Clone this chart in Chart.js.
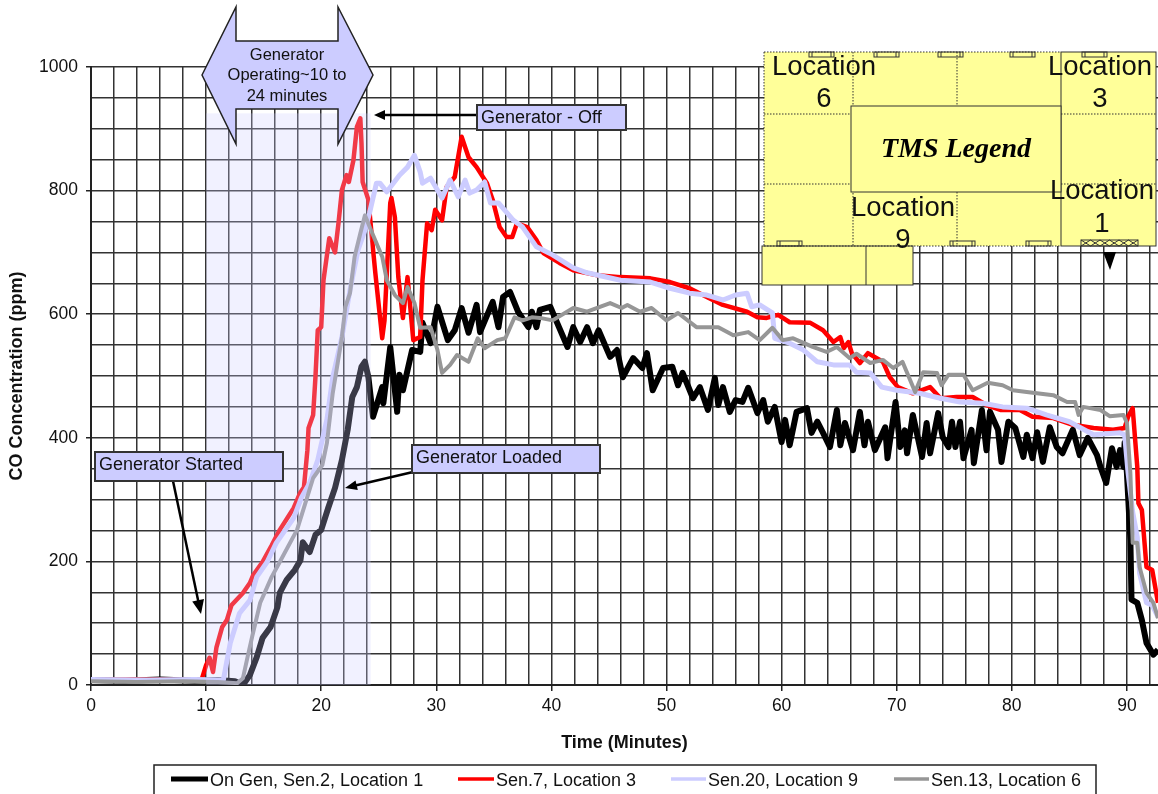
<!DOCTYPE html>
<html>
<head>
<meta charset="utf-8">
<title>CO Concentration</title>
<script src="https://cdn.jsdelivr.net/npm/chart.js@4"></script>
<style>
body { margin: 0; background: #fff; overflow: hidden; }
canvas { display: block; }
</style>
</head>
<body>
<canvas id="co_chart" width="1158" height="794"></canvas>
<script>
// values: minutes and ppm for each sensor
const sen2Time = [0,3,6,9,11,12.5,13.2,13.8,14.4,14.9,15.6,16.2,16.4,17,17.7,18.2,18.4,19,19.5,20,20.6,21.2,21.8,22.3,22.7,23.1,23.5,23.8,24.1,24.5,25.3,25.4,26,26.6,26.8,27.1,27.9,28.6,28.8,29.5,30.1,31,31.6,32.2,32.8,33.5,33.8,34.9,35.4,35.8,36.4,37.1,38,38.3,38.7,39,39.9,40.5,41.4,41.9,42.5,43.1,43.6,44.1,45.1,45.7,46.2,47.1,47.9,48.3,48.8,49.7,50.5,51,51.4,52.3,52.9,53.6,54.2,54.5,54.9,55.5,56,56.6,57.1,57.9,58.4,58.8,59.4,60,60.3,60.7,61.3,62.2,62.6,63.1,63.6,64.2,64.8,65.1,65.5,66.2,66.8,67.2,67.5,68.1,69,69.2,69.9,70.3,70.7,70.9,71.4,72.2,72.6,72.9,73.6,74,74.5,74.8,75.1,75.5,75.8,76.5,76.7,77.4,77.8,78.1,78.8,79.1,79.7,80.3,81,81.3,81.8,82.2,82.7,83.3,83.9,84.4,85.3,85.9,86.6,87.4,87.7,88.2,88.7,89.1,89.4,89.7,89.8,90,90.3,90.4,90.9,91.3,91.7,92.3,92.7];
const sen2Ppm = [8,7,9,7,8,6,0,16,45,76,94,126,149,170,186,202,231,215,243,251,286,319,364,413,466,482,515,523,498,434,482,456,547,442,502,477,542,539,586,553,612,558,574,610,570,615,571,620,579,628,636,604,579,604,579,607,612,586,547,579,555,579,553,574,531,542,498,529,513,537,477,513,515,485,505,464,482,445,497,453,482,442,461,458,481,440,461,426,450,393,429,388,442,448,408,426,408,385,445,388,424,380,442,388,426,380,417,367,458,385,412,375,437,369,424,375,440,401,385,426,385,426,367,413,359,445,380,442,413,361,426,416,369,405,367,409,361,417,385,375,413,372,400,372,353,327,383,353,380,353,392,343,235,138,133,105,68,49,57];

const sen7Time = [0,4,8,9.6,10,10.3,10.6,10.9,11.4,11.8,12.2,13.2,13.8,14.1,14.9,15.7,16.4,17.6,18.2,18.5,18.8,18.9,19.3,19.5,19.7,20,20.2,20.7,21.2,21.5,21.8,22.2,22.4,22.8,23.1,23.4,23.5,23.6,24.1,24.4,24.7,25.3,25.5,26,26.1,26.4,26.7,27.1,27.5,28,28.6,28.8,29.2,29.6,29.9,30.5,30.9,31.6,32.2,32.8,33.5,34.4,34.9,35.5,36.1,36.6,37,37.9,38.7,39.3,40.7,41.9,44,46,48.6,50.3,52,53.5,54.9,57,57.9,58.7,59.7,60.7,62.5,63.6,64.5,65.1,65.4,65.8,66.1,66.8,67.5,68.8,69.4,70.1,71.4,72.9,73.8,75.2,76.6,77.8,79,80.7,81.8,83.6,85.3,87.1,88.8,89.8,90.1,90.5,90.9,91,91.3,91.7,92.2,92.7];
const sen7Ppm = [8,9,8,8,32,44,21,61,94,105,129,149,165,178,199,226,251,286,312,320,380,416,437,498,574,579,655,723,700,747,801,825,814,849,903,917,877,814,785,725,667,561,590,780,788,757,660,594,660,558,563,655,747,736,769,752,806,822,887,854,838,812,785,741,725,725,747,741,720,699,683,671,663,660,658,652,642,628,615,604,595,594,599,587,586,574,555,563,545,555,537,521,537,523,498,482,472,482,464,466,466,453,445,445,434,432,421,416,413,416,434,448,353,294,283,191,186,133];

const sen20Time = [0,5,9,11.5,12.1,12.9,13.8,14.4,15.3,16.1,17.6,18.3,19,19.7,20.5,21,21.8,22.5,23.2,23.8,24.2,24.8,25.1,25.7,26.8,27.5,28.1,28.6,28.8,29.5,30.5,31.2,31.9,32.5,32.9,33.5,34.2,34.7,35.4,36.7,37.5,38.7,40.1,41.9,43.1,46,48.6,50.3,52,53.5,54.9,56,57,57.4,58.1,59.2,59.4,60.7,61.9,63.1,64.5,65.9,66.5,67.7,68.7,70,72,73.8,75.5,77.5,79.2,81.3,83,85,87.1,89.4,89.8,90.1,90.5,90.9,91.1,91.7,92.2,92.7];
const sen20Ppm = [9,8,9,8,68,116,137,175,199,230,270,304,327,364,430,498,563,639,704,736,764,812,812,798,825,838,857,830,812,820,788,817,790,817,796,801,814,780,780,752,741,709,696,675,667,655,652,642,634,631,623,631,634,612,615,602,561,553,542,523,518,518,506,505,482,477,472,464,458,456,450,448,437,426,405,408,405,343,280,239,181,133,129,110];

const sen13Time = [0,4,8,11,12.7,13.2,13.6,14,14.7,15.7,16.4,17.9,18.9,19.3,20.1,20.5,21,21.8,22.1,22.5,22.9,23.4,23.8,24.5,25.3,25.7,26.4,27.1,27.5,28.1,28.6,29.5,30.1,30.5,31.2,31.8,32.8,33.6,34.2,35.3,36,36.8,37.5,38.3,39,40.1,41.9,43.1,45.1,46.1,46.6,47.7,48.7,50,51,52.6,54.5,55.8,57.1,58.1,59.2,60.1,61,62.7,63.9,64.8,65.9,66.5,67.7,68.8,69.7,70.5,71.6,72.3,73.5,73.9,74.5,75.8,76.6,77.9,79.2,80.1,81.3,83.6,84.8,85.5,85.8,86.2,87.7,88.5,89.7,90,90.3,90.5,90.9,91.1,91.7,92.3,92.7];
const sen13Ppm = [6,5,6,5,3,11,45,78,133,175,199,251,311,335,356,392,472,563,612,634,693,731,760,728,693,655,631,618,644,618,578,579,542,505,518,534,523,561,545,558,561,595,590,595,594,590,610,604,618,610,615,604,610,590,602,579,579,566,571,558,578,558,561,547,539,547,529,536,521,526,513,523,474,506,505,485,502,502,477,489,485,477,474,469,458,458,437,450,445,435,437,424,343,230,230,191,149,133,108];

const seriesLabels = ["On Gen, Sen.2, Location 1", "Sen.7, Location 3", "Sen.20, Location 9", "Sen.13, Location 6"];
const seriesColors = ["#000000", "#ff0000", "#ccccff", "#969696"];
const seriesWidths = [6, 4.5, 5, 4];

const toPoints = (t, v) => t.map((x, i) => ({ x: x, y: v[i] }));
const FONT = '"Liberation Sans", Arial, sans-serif';

function arrow(ctx, x1, y1, x2, y2, len, half) {
    const a = Math.atan2(y2 - y1, x2 - x1);
    ctx.strokeStyle = '#000';
    ctx.fillStyle = '#000';
    ctx.lineWidth = 2.5;
    ctx.beginPath();
    ctx.moveTo(x1, y1);
    ctx.lineTo(x2 - Math.cos(a) * len * 0.7, y2 - Math.sin(a) * len * 0.7);
    ctx.stroke();
    ctx.beginPath();
    ctx.moveTo(x2, y2);
    ctx.lineTo(x2 - Math.cos(a) * len - Math.sin(a) * half, y2 - Math.sin(a) * len + Math.cos(a) * half);
    ctx.lineTo(x2 - Math.cos(a) * len + Math.sin(a) * half, y2 - Math.sin(a) * len - Math.cos(a) * half);
    ctx.closePath();
    ctx.fill();
}

function noteBox(ctx, x, y, w, h, text, baseline) {
    ctx.fillStyle = '#ccccff';
    ctx.strokeStyle = '#333';
    ctx.lineWidth = 2;
    ctx.fillRect(x, y, w, h);
    ctx.strokeRect(x, y, w, h);
    ctx.fillStyle = '#111';
    ctx.font = '18px ' + FONT;
    ctx.textAlign = 'left';
    ctx.fillText(text, x + 4, baseline);
}

// shaded run period, generator notes, floor plan and legend
const overlays = {
    id: 'overlays',
    afterDatasetsDraw(chart) {
        const ctx = chart.ctx;
        const xs = chart.scales.x, ys = chart.scales.y;
        ctx.save();

        const bandL = xs.getPixelForValue(10), bandR = xs.getPixelForValue(24.3);
        const bandT = ys.getPixelForValue(925), bandB = ys.getPixelForValue(0);
        ctx.fillStyle = 'rgba(204,204,255,0.28)';
        ctx.fillRect(bandL, bandT, bandR - bandL, bandB - bandT);

        // double arrow
        const hex = [[202,75],[236,7],[236,41],[338,41],[338,7],[373,75],[338,144],[338,109],[236,109],[236,144]];
        ctx.beginPath();
        hex.forEach((p, i) => i ? ctx.lineTo(p[0], p[1]) : ctx.moveTo(p[0], p[1]));
        ctx.closePath();
        ctx.fillStyle = '#ccccff';
        ctx.fill();
        ctx.strokeStyle = '#222';
        ctx.lineWidth = 1.5;
        ctx.stroke();
        ctx.fillStyle = '#111';
        ctx.font = '16.5px ' + FONT;
        ctx.textAlign = 'center';
        ctx.fillText('Generator', 287, 60);
        ctx.fillText('Operating~10 to', 287, 80);
        ctx.fillText('24 minutes', 287, 101);

        arrow(ctx, 477, 115, 374, 115, 11, 5);
        noteBox(ctx, 477, 105, 149, 25, 'Generator - Off', 123);
        arrow(ctx, 173, 481, 201, 614, 14, 6);
        noteBox(ctx, 95, 452, 188, 29, 'Generator Started', 470);
        arrow(ctx, 413, 472, 345, 488, 12, 5);
        noteBox(ctx, 412, 445, 188, 28, 'Generator Loaded', 463);

        // floor plan
        ctx.fillStyle = '#ffff99';
        ctx.fillRect(764, 52, 392, 194);
        ctx.fillRect(762, 246, 151, 39);
        ctx.strokeStyle = '#333';
        ctx.lineWidth = 1;
        ctx.setLineDash([1.5, 1.5]);
        [[764,52,1061,52],[764,52,764,246],[764,246,1061,246],[853,52,853,246],[957,52,957,106],[957,192,957,246],[764,114,851,114],[1061,114,1156,114],[764,184,851,184],[1061,184,1156,184]].forEach(l => {
            ctx.beginPath();
            ctx.moveTo(l[0], l[1]);
            ctx.lineTo(l[2], l[3]);
            ctx.stroke();
        });
        ctx.setLineDash([]);
        ctx.strokeRect(1061, 52, 95, 194);
        ctx.fillStyle = '#ffff99';
        ctx.fillRect(851, 106, 210, 86);
        ctx.strokeRect(851, 106, 210, 86);
        ctx.strokeRect(762, 246, 151, 39);
        ctx.beginPath();
        ctx.moveTo(866, 246);
        ctx.lineTo(866, 285);
        ctx.stroke();
        [[809,52],[874,52],[938,52],[1010,52],[1082,52],[777,241],[950,241],[1026,241]].forEach(p => {
            ctx.strokeRect(p[0], p[1], 25, 5);
            ctx.beginPath();
            ctx.moveTo(p[0] + 3, p[1]);
            ctx.lineTo(p[0] + 3, p[1] + 5);
            ctx.moveTo(p[0] + 22, p[1]);
            ctx.lineTo(p[0] + 22, p[1] + 5);
            ctx.stroke();
        });
        // roll-up door
        ctx.strokeRect(1081, 240, 57, 6);
        ctx.beginPath();
        for (let i = 0; i < 6; i++) {
            const dx = 1081 + i * 9.5;
            ctx.moveTo(dx, 240);
            ctx.lineTo(dx + 9.5, 246);
            ctx.moveTo(dx + 9.5, 240);
            ctx.lineTo(dx, 246);
        }
        ctx.stroke();
        ctx.fillStyle = '#000';
        ctx.beginPath();
        ctx.moveTo(1103, 252);
        ctx.lineTo(1116, 252);
        ctx.lineTo(1110, 270);
        ctx.closePath();
        ctx.fill();

        ctx.fillStyle = '#111';
        ctx.font = '27.5px ' + FONT;
        ctx.textAlign = 'center';
        [['Location', 824, 75], ['6', 824, 107], ['Location', 1100, 75], ['3', 1100, 107], ['Location', 1102, 199], ['1', 1102, 232], ['Location', 903, 216], ['9', 903, 248]].forEach(t => {
            ctx.fillText(t[0], t[1], t[2]);
        });
        ctx.fillStyle = '#000';
        ctx.font = 'italic bold 28px "Liberation Serif", "Times New Roman", serif';
        ctx.fillText('TMS Legend', 956, 157);

        // legend box runs off the bottom of the picture
        ctx.strokeStyle = '#222';
        ctx.lineWidth = 1.5;
        ctx.beginPath();
        ctx.moveTo(154, 800);
        ctx.lineTo(154, 765);
        ctx.lineTo(1096, 765);
        ctx.lineTo(1096, 800);
        ctx.stroke();
        const sampleX = [171, 458, 671, 894];
        const sampleEnd = [208, 494, 706, 929];
        ctx.font = '18px ' + FONT;
        ctx.textAlign = 'left';
        seriesLabels.forEach((label, i) => {
            ctx.strokeStyle = seriesColors[i];
            ctx.lineWidth = i === 0 ? 5 : 3.5;
            ctx.beginPath();
            ctx.moveTo(sampleX[i], 779);
            ctx.lineTo(sampleEnd[i], 779);
            ctx.stroke();
            ctx.fillStyle = '#111';
            ctx.fillText(label, sampleEnd[i] + 2, 786);
        });
        ctx.restore();
    }
};

const seriesData = [toPoints(sen2Time, sen2Ppm), toPoints(sen7Time, sen7Ppm), toPoints(sen20Time, sen20Ppm), toPoints(sen13Time, sen13Ppm)];

new Chart(document.getElementById('co_chart'), {
    type: 'line',
    data: {
        datasets: seriesLabels.map((label, i) => ({
            label: label,
            data: seriesData[i],
            borderColor: seriesColors[i],
            borderWidth: seriesWidths[i],
            borderJoinStyle: 'round',
            pointRadius: 0,
            tension: 0,
            order: 4 - i
        }))
    },
    options: {
        responsive: false,
        animation: false,
        layout: { padding: { top: 67 } },
        plugins: {
            legend: { display: false },
            tooltip: { enabled: false }
        },
        scales: {
            x: {
                type: 'linear',
                min: 0,
                max: 92.7,
                afterFit: s => { s.height = 109; },
                title: {
                    display: true,
                    text: 'Time (Minutes)',
                    color: '#111',
                    font: { family: FONT, size: 18, weight: 'bold' },
                    padding: { top: 0, bottom: 40 }
                },
                border: { color: '#222', width: 2 },
                grid: {
                    color: '#333',
                    lineWidth: 1.5,
                    tickColor: c => (c.tick && c.tick.value % 10 === 0 ? '#222' : 'rgba(0,0,0,0)'),
                    tickLength: 6
                },
                ticks: {
                    stepSize: 2,
                    includeBounds: false,
                    autoSkip: false,
                    maxRotation: 0,
                    padding: 5,
                    color: '#111',
                    font: { family: FONT, size: 17.5 },
                    callback: v => (v % 10 === 0 ? v : '')
                }
            },
            y: {
                min: 0,
                max: 1000,
                afterFit: s => { s.width = 91; },
                title: {
                    display: true,
                    text: 'CO Concentration (ppm)',
                    color: '#111',
                    font: { family: FONT, size: 18, weight: 'bold' },
                    padding: { top: 6, bottom: 0 }
                },
                border: { color: '#222', width: 2 },
                grid: {
                    color: '#333',
                    lineWidth: 1.5,
                    tickColor: c => (c.tick && c.tick.value % 200 === 0 ? '#222' : 'rgba(0,0,0,0)'),
                    tickLength: 5
                },
                ticks: {
                    stepSize: 50,
                    autoSkip: false,
                    padding: 8,
                    color: '#111',
                    font: { family: FONT, size: 17.5 },
                    callback: v => (v % 200 === 0 ? v : '')
                }
            }
        }
    },
    plugins: [overlays]
});
</script>
</body>
</html>
